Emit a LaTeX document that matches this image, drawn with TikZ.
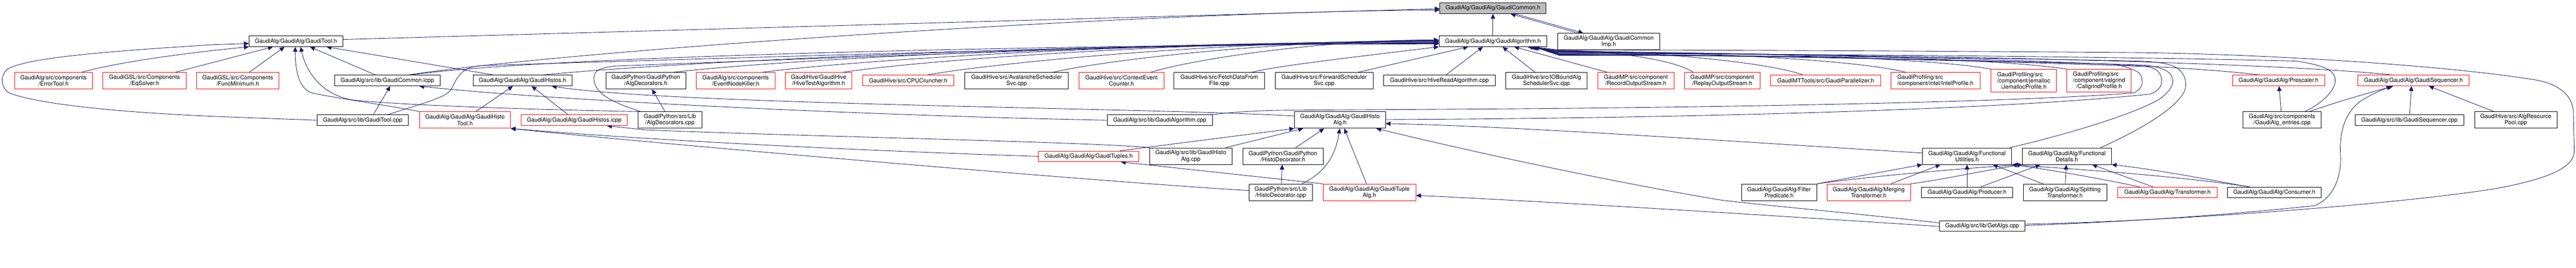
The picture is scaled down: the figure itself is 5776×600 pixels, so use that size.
\documentclass[tikz,border=0pt]{standalone}
\usepackage{fontspec}
\setmainfont{TeX Gyre Heros}
\usetikzlibrary{arrows.meta,calc}
\pgfdeclarelayer{bg}
\pgfsetlayers{bg,main}
\definecolor{edgeblue}{RGB}{25,25,112}
\definecolor{boxred}{RGB}{255,0,0}
\definecolor{boxgray}{RGB}{191,191,191}
\tikzset{
  nbox/.style={draw=black, line width=1pt, fill=white, inner sep=0pt, anchor=north west, align=center, text=black, font=\fontsize{13}{14}\selectfont},
  redbox/.style={nbox, draw=boxred},
  graybox/.style={nbox, fill=boxgray},
  conn/.style={draw=edgeblue, line width=1pt, -{Triangle[length=11pt,width=10pt]}},
}
\newcommand\mynode[7]{\node[#1,minimum width=#5pt,minimum height=#6pt] (#2) at (#3,#4) {#7};}
\begin{document}
\begin{tikzpicture}[x=1pt,y=-1pt]
\begin{pgfonlayer}{bg}
\fill[white] (0,0) rectangle (5776,600);
\end{pgfonlayer}
\useasboundingbox (0,0) rectangle (5776,600);
% ---------- nodes ----------
\mynode{graybox}{common}{3228}{6}{238}{24}{GaudiAlg/GaudiAlg/GaudiCommon.h}
\mynode{nbox}{tool}{558}{80}{210}{24}{GaudiAlg/GaudiAlg/GaudiTool.h}
\mynode{nbox}{algh}{3226}{80}{242}{24}{GaudiAlg/GaudiAlg/GaudiAlgorithm.h}
\mynode{nbox}{commonimp}{3492}{74}{229}{37}{GaudiAlg/GaudiAlg/GaudiCommon\\Imp.h}
\mynode{redbox}{errortool}{32}{162}{175}{37}{GaudiAlg/src/components\\/ErrorTool.h}
\mynode{redbox}{eqsolver}{230}{162}{187}{37}{GaudiGSL/src/Components\\/EqSolver.h}
\mynode{redbox}{funcmin}{440}{162}{185}{37}{GaudiGSL/src/Components\\/FuncMinimum.h}
\mynode{nbox}{commonicpp}{750}{168}{236}{24}{GaudiAlg/src/lib/GaudiCommon.icpp}
\mynode{nbox}{histosh}{1060}{168}{222}{24}{GaudiAlg/GaudiAlg/GaudiHistos.h}
\mynode{nbox}{algdech}{1358}{162}{179}{37}{GaudiPython/GaudiPython\\/AlgDecorators.h}
\mynode{redbox}{eventnode}{1561}{162}{176}{37}{GaudiAlg/src/components\\/EventNodeKiller.h}
\mynode{redbox}{hivetest}{1760}{162}{150}{37}{GaudiHive/GaudiHive\\/HiveTestAlgorithm.h}
\mynode{redbox}{cpucrunch}{1934}{168}{204}{24}{GaudiHive/src/CPUCruncher.h}
\mynode{nbox}{avalanche}{2163}{162}{232}{37}{GaudiHive/src/AvalancheScheduler\\Svc.cpp}
\mynode{redbox}{ctxevt}{2419}{162}{190}{37}{GaudiHive/src/ContextEvent\\Counter.h}
\mynode{nbox}{fetch}{2632}{162}{203}{37}{GaudiHive/src/FetchDataFrom\\File.cpp}
\mynode{nbox}{forward}{2859}{162}{219}{37}{GaudiHive/src/ForwardScheduler\\Svc.cpp}
\mynode{nbox}{hiveread}{3102}{168}{250}{24}{GaudiHive/src/HiveReadAlgorithm.cpp}
\mynode{nbox}{iobound}{3376}{162}{182}{37}{GaudiHive/src/IOBoundAlg\\SchedulerSvc.cpp}
\mynode{redbox}{record}{3582}{162}{171}{37}{GaudiMP/src/component\\/RecordOutputStream.h}
\mynode{redbox}{replay}{3776}{162}{170}{37}{GaudiMP/src/component\\/ReplayOutputStream.h}
\mynode{redbox}{parallel}{3969}{168}{248}{24}{GaudiMTTools/src/GaudiParallelizer.h}
\mynode{redbox}{intel}{4239}{162}{200}{37}{\rlap{GaudiProfiling/src}\phantom{/component/intel/IntelProfile.h}\\/component/intel/IntelProfile.h}
\mynode{redbox}{jemalloc}{4464}{155}{146}{51}{\rlap{GaudiProfiling/src}\phantom{/component/jemalloc}\\/component/jemalloc\\/JemallocProfile.h}
\mynode{redbox}{callgrind}{4634}{155}{144}{51}{\rlap{GaudiProfiling/src}\phantom{/component/valgrind}\\/component/valgrind\\/CallgrindProfile.h}
\mynode{redbox}{prescaler}{5005}{168}{207}{24}{GaudiAlg/GaudiAlg/Prescaler.h}
\mynode{redbox}{seqh}{5286}{168}{250}{24}{GaudiAlg/GaudiAlg/GaudiSequencer.h}
\mynode{nbox}{toolcpp}{710}{257}{205}{24}{GaudiAlg/src/lib/GaudiTool.cpp}
\mynode{redbox}{histotool}{940}{250}{204}{37}{GaudiAlg/GaudiAlg/GaudiHisto\\Tool.h}
\mynode{redbox}{histosicpp}{1168}{257}{238}{24}{GaudiAlg/GaudiAlg/GaudiHistos.icpp}
\mynode{nbox}{algdeccpp}{1430}{250}{143}{37}{GaudiPython/src/Lib\\/AlgDecorators.cpp}
\mynode{nbox}{algcpp}{2482}{257}{236}{24}{GaudiAlg/src/lib/GaudiAlgorithm.cpp}
\mynode{nbox}{histoalgh}{2902}{250}{204}{37}{GaudiAlg/GaudiAlg/GaudiHisto\\Alg.h}
\mynode{nbox}{entries}{5029}{250}{175}{37}{GaudiAlg/src/components\\/GaudiAlg\_entries.cpp}
\mynode{nbox}{seqcpp}{5280}{257}{244}{24}{GaudiAlg/src/lib/GaudiSequencer.cpp}
\mynode{nbox}{algres}{5548}{250}{185}{37}{GaudiHive/src/AlgResource\\Pool.cpp}
\mynode{redbox}{tuples}{2328}{338}{225}{24}{GaudiAlg/GaudiAlg/GaudiTuples.h}
\mynode{nbox}{histoalgcpp}{2577}{331}{185}{37}{GaudiAlg/src/lib/GaudiHisto\\Alg.cpp}
\mynode{nbox}{histodech}{2786}{331}{180}{37}{GaudiPython/GaudiPython\\/HistoDecorator.h}
\mynode{nbox}{futil}{4310}{331}{200}{37}{GaudiAlg/GaudiAlg/Functional\\Utilities.h}
\mynode{nbox}{fdet}{4534}{331}{200}{37}{GaudiAlg/GaudiAlg/Functional\\Details.h}
\mynode{nbox}{histodeccpp}{2800}{412}{142}{37}{GaudiPython/src/Lib\\/HistoDecorator.cpp}
\mynode{redbox}{tuplealg}{2966}{412}{208}{37}{GaudiAlg/GaudiAlg/GaudiTuple\\Alg.h}
\mynode{nbox}{filter}{3904}{412}{169}{37}{GaudiAlg/GaudiAlg/Filter\\Predicate.h}
\mynode{redbox}{merging}{4096}{412}{187}{37}{GaudiAlg/GaudiAlg/Merging\\Transformer.h}
\mynode{nbox}{producer}{4308}{419}{204}{24}{GaudiAlg/GaudiAlg/Producer.h}
\mynode{nbox}{splitting}{4536}{412}{187}{37}{GaudiAlg/GaudiAlg/Splitting\\Transformer.h}
\mynode{redbox}{transformer}{4748}{419}{223}{24}{GaudiAlg/GaudiAlg/Transformer.h}
\mynode{nbox}{consumer}{4994}{419}{210}{24}{GaudiAlg/GaudiAlg/Consumer.h}
\mynode{nbox}{getalgs}{4348}{494}{192}{24}{GaudiAlg/src/lib/GetAlgs.cpp}
% ---------- connectors ----------
\begin{pgfonlayer}{bg}
% into GaudiCommon.h
\draw[conn] ($(tool.east)+(0,-4)$) -- ($(common.west)+(0,1)$);
\draw[conn] ($(commonicpp.north west)+(165,0)$) .. controls (1300,110) and (2600,25) .. ($(common.west)+(0,4)$);
\draw[conn] (algh.north) -- (common.south);
\draw[conn] ($(commonimp.north west)+(46,0)$) -- ($(common.south east)+(-80,0)$);
\draw[conn] ($(common.south east)+(-70,0)$) -- ($(commonimp.north west)+(58,0)$);
% into GaudiTool.h
\draw[conn] ($(errortool.north west)+(151,0)$) .. controls (260,140) and (420,118) .. (tool.south west);
\draw[conn] (toolcpp.west) -- (482,261) .. controls (250,251) and (80,232) .. (20,208) .. controls (0,195) and (0,165) .. (20,153) .. controls (60,135) and (150,120) .. (482,100) -- ($(tool.west)+(0,5)$);
\draw[conn] ($(eqsolver.north west)+(163,0)$) -- ($(tool.south west)+(54,0)$);
\draw[conn] ($(funcmin.north west)+(119,0)$) -- ($(tool.south west)+(80,0)$);
\draw[conn] (histotool.north west) .. controls (870,236) and (740,218) .. (699,208) .. controls (675,200) and (662,170) .. ($(tool.south west)+(104,0)$);
\draw[conn] ($(algdeccpp.north west)+(1,0)$) .. controls (1200,246) and (900,236) .. (790,224) .. controls (720,212) and (686,160) .. ($(tool.south west)+(116,0)$);
\draw[conn] ($(commonicpp.north west)+(92,0)$) -- ($(tool.south west)+(137,0)$);
\draw[conn] ($(histosh.north west)+(47,0)$) -- ($(tool.south west)+(174,0)$);
\draw[conn] ($(toolcpp.north west)+(127,0)$) -- ($(commonicpp.south west)+(125,0)$);
% left bundle into GaudiAlgorithm.h
\draw[conn] ($(commonicpp.north west)+(170,0)$) .. controls (1250,122) and (2500,99) .. ($(algh.west)+(0,6)$);
\draw[conn] ($(toolcpp.north west)+(159,0)$) .. controls (960,228) and (1000,218) .. (1012,200) .. controls (1028,165) and (1040,150) .. (1080,147) .. controls (1800,125) and (2700,97) .. ($(algh.west)+(0,5)$);
\draw[conn] ($(histosh.north west)+(157,0)$) .. controls (1518,138) and (2422,96) .. ($(algh.west)+(0,4)$);
\draw[conn] ($(algdeccpp.north west)+(7,0)$) .. controls (1380,232) and (1335,212) .. (1332,180) .. controls (1330,160) and (1340,152) .. (1380,148) .. controls (2000,125) and (2700,96) .. ($(algh.west)+(0,3)$);
\draw[conn] ($(algdech.north west)+(152,0)$) .. controls (1767,132) and (2540,94) .. ($(algh.west)+(0,2)$);
\draw[conn] ($(eventnode.north west)+(148,0)$) .. controls (1937,132) and (2619,93) .. ($(algh.west)+(0,1)$);
\draw[conn] ($(hivetest.north west)+(130,0)$) .. controls (2090,132) and (2692,92) .. (algh.west);
\draw[conn] ($(cpucrunch.north west)+(144,0)$) .. controls (2250,138) and (2767,91) .. ($(algh.west)+(0,-1)$);
\draw[conn] ($(avalanche.north west)+(198,0)$) .. controls (2491,132) and (2880,90) .. ($(algh.west)+(0,-2)$);
\draw[conn] ($(ctxevt.north west)+(161,0)$) .. controls (2677,132) and (2968,89) .. ($(algh.west)+(0,-3)$);
\draw[conn] ($(fetch.north west)+(175,0)$) .. controls (2850,150) and (3000,132) .. (algh.south west);
\draw[conn] ($(forward.north west)+(186,0)$) -- ($(algh.south west)+(66,0)$);
\draw[conn] ($(hiveread.north west)+(140,0)$) -- ($(algh.south west)+(99,0)$);
\draw[conn] ($(iobound.north west)+(66,0)$) -- ($(algh.south west)+(143,0)$);
% right bundle into GaudiAlgorithm.h
\draw[conn] ($(record.north west)+(22,0)$) -- ($(algh.south east)+(-74,0)$);
\draw[conn] ($(replay.north west)+(21,0)$) .. controls (3752,132) and (3601,113) .. (3495,113) -- ($(algh.south east)+(-44,0)$);
\draw[conn] ($(parallel.north west)+(74,0)$) .. controls (3961,138) and (3687,114) .. (3495,114) -- ($(algh.south east)+(-40,0)$);
\draw[conn] ($(intel.north west)+(34,0)$) .. controls (4156,132) and (3767,115) .. (3495,115) -- ($(algh.south east)+(-38,0)$);
\draw[conn] ($(jemalloc.north west)+(1,0)$) .. controls (4320,128) and (3835,116) .. (3495,116) -- ($(algh.south east)+(-37,0)$);
\draw[conn] ($(callgrind.north west)+(1,0)$) .. controls (4464,128) and (3894,117) .. (3495,117) -- ($(algh.south east)+(-36,0)$);
\draw[conn] ($(prescaler.north west)+(62,0)$) .. controls (4831,138) and (4045,118) .. (3495,118) -- ($(algh.south east)+(-35,0)$);
\draw[conn] ($(seqh.north west)+(78,0)$) .. controls (5084,138) and (4149,119) .. (3495,119) -- ($(algh.south east)+(-34,0)$);
\draw[conn] ($(entries.north west)+(139,0)$) .. controls (5210,230) and (5238,200) .. (5236,178) .. controls (5234,160) and (5220,148) .. (5150,137) .. controls (4700,125) and (3800,120) .. (3495,120) -- ($(algh.south east)+(-33,0)$);
\draw[conn] (algcpp.north east) .. controls (2780,249) and (2850,247) .. (2900,247) -- (3374,244) .. controls (3900,240) and (4550,228) .. (4785,208) .. controls (4800,200) and (4805,190) .. (4803,180) .. controls (4802,165) and (4795,155) .. (4740,144) .. controls (4300,132) and (3800,121) .. (3495,121) -- ($(algh.south east)+(-32,0)$);
\draw[conn] ($(histoalgh.east)+(0,-1)$) .. controls (3800,265) and (4500,245) .. (4820,211) .. controls (4840,205) and (4848,192) .. (4847,180) .. controls (4846,165) and (4838,152) .. (4810,149) .. controls (4400,134) and (3800,122) .. (3495,122) -- ($(algh.south east)+(-31,0)$);
\draw[conn] ($(futil.north east)+(-5,0)$) .. controls (4650,298) and (4800,250) .. (4845,220) .. controls (4865,205) and (4873,190) .. (4872,180) .. controls (4870,165) and (4860,152) .. (4810,146) .. controls (4400,133) and (3800,123) .. (3495,123) -- ($(algh.south east)+(-30,0)$);
\draw[conn] ($(fdet.north west)+(176,0)$) .. controls (4790,295) and (4870,250) .. (4895,210) .. controls (4905,195) and (4903,170) .. (4885,155) .. controls (4870,143) and (4840,139) .. (4800,137) .. controls (4400,128) and (3800,124) .. (3495,124) -- ($(algh.south east)+(-29,0)$);
\draw[conn] ($(getalgs.east)+(0,-4)$) .. controls (4900,495) and (5400,455) .. (5600,422) .. controls (5700,403) and (5770,380) .. (5772,340) -- (5770,250) .. controls (5768,215) and (5740,190) .. (5690,180) .. controls (5500,148) and (5100,122) .. (4800,118) .. controls (4300,114) and (3800,112) .. (3495,112) -- ($(algh.south east)+(-28,0)$);
% GetAlgs.cpp
\draw[conn] ($(getalgs.east)+(0,-1)$) .. controls (4900,492) and (5100,470) .. (5190,461) .. controls (5230,445) and (5250,400) .. (5248,350) .. controls (5245,300) and (5255,250) .. (5300,222) .. controls (5330,205) and (5350,198) .. ($(seqh.south west)+(76,0)$);
\draw[conn] ($(getalgs.west)+(0,-7)$) .. controls (4100,472) and (3950,460) .. (3856,448) .. controls (3600,405) and (3300,340) .. ($(histoalgh.south east)+(-21,0)$);
\draw[conn] ($(getalgs.west)+(0,1)$) .. controls (3900,478) and (3400,448) .. ($(tuplealg.east)+(0,7)$);
\draw[conn] ($(futil.west)+(0,-7)$) .. controls (3900,318) and (3400,283) .. ($(histoalgh.east)+(0,8)$);
% histos / tuples
\draw[conn] ($(histoalgh.west)+(0,-9)$) .. controls (2600,242) and (1500,235) .. ($(histosh.south west)+(177,0)$);
\draw[conn] (algcpp.west) .. controls (1900,258) and (1200,222) .. ($(commonicpp.south east)+(-47,0)$);
\draw[conn] (histoalgcpp.north west) .. controls (2450,318) and (1800,306) .. (1446,291) -- ($(histosicpp.south west)+(193,0)$);
\draw[conn] (tuples.west) .. controls (2000,340) and (1500,318) .. (histotool.south east);
\draw[conn] ($(histodeccpp.west)+(0,-4)$) .. controls (2500,410) and (1500,325) .. (histotool.south east);
\draw[conn] ($(histotool.north west)+(127,0)$) -- ($(histosh.south west)+(90,0)$);
\draw[conn] ($(histosicpp.north west)+(106,0)$) -- ($(histosh.south west)+(132,0)$);
\draw[conn] ($(algdeccpp.north west)+(61,0)$) -- ($(algdech.south west)+(104,0)$);
\draw[conn] ($(histoalgcpp.north east)+(-15,0)$) -- ($(histoalgh.south west)+(20,0)$);
\draw[conn] ($(tuples.north east)+(-43,0)$) -- (histoalgh.south west);
\draw[conn] (tuplealg.north west) -- ($(tuples.south west)+(185,0)$);
\draw[conn] ($(histodech.north west)+(119,0)$) -- ($(histoalgh.south west)+(67,0)$);
\draw[conn] ($(histodeccpp.north west)+(73,0)$) -- ($(histodech.south west)+(89,0)$);
\draw[conn] ($(histodeccpp.north west)+(119,0)$) .. controls (2975,385) and (2995,345) .. ($(histoalgh.south west)+(102,0)$);
\draw[conn] ($(tuplealg.north west)+(98,0)$) -- ($(histoalgh.south west)+(112,0)$);
% functional
\draw[conn] (filter.north east) -- (futil.south west);
\draw[conn] (filter.north east) .. controls (4200,394) and (4420,376) .. (fdet.south west);
\draw[conn] ($(merging.north west)+(144,0)$) -- ($(futil.south west)+(41,0)$);
\draw[conn] (merging.north east) .. controls (4360,402) and (4460,380) .. (fdet.south west);
\draw[conn] (producer.north) -- (futil.south);
\draw[conn] ($(producer.north west)+(133,0)$) -- ($(fdet.south west)+(41,0)$);
\draw[conn] ($(splitting.north west)+(45,0)$) -- ($(futil.south west)+(158,0)$);
\draw[conn] ($(splitting.north west)+(95,0)$) -- ($(fdet.south west)+(99,0)$);
\draw[conn] ($(transformer.north west)+(50,0)$) .. controls (4700,398) and (4580,378) .. (futil.south east);
\draw[conn] ($(transformer.north west)+(80,0)$) -- ($(fdet.south west)+(157,0)$);
\draw[conn] ($(consumer.north west)+(52,0)$) .. controls (4850,390) and (4600,376) .. (futil.south east);
\draw[conn] ($(consumer.north west)+(48,0)$) .. controls (4900,392) and (4800,376) .. (fdet.south east);
% sequencer
\draw[conn] ($(entries.north west)+(86,0)$) -- ($(prescaler.south west)+(105,0)$);
\draw[conn] ($(entries.north west)+(149,0)$) .. controls (5250,225) and (5330,203) .. ($(seqh.south west)+(80,0)$);
\draw[conn] ($(seqcpp.north west)+(123,0)$) -- ($(seqh.south west)+(121,0)$);
\draw[conn] ($(algres.north west)+(44,0)$) -- ($(seqh.south west)+(160,0)$);
\end{pgfonlayer}
\end{tikzpicture}
\end{document}
